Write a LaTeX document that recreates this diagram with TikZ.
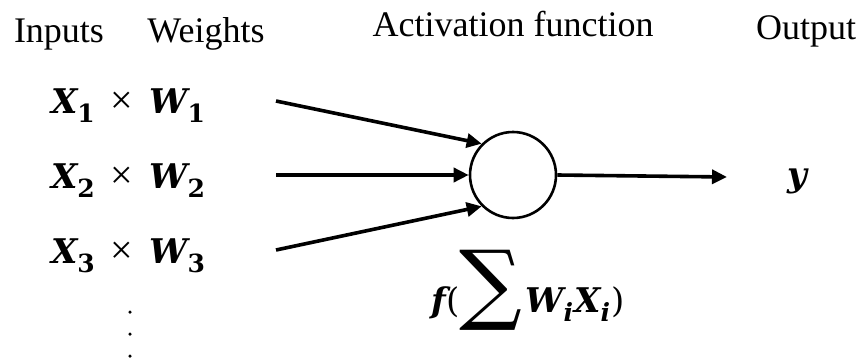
\documentclass[tikz,border=0pt]{standalone}
\usepackage{fontspec}
\setmainfont{Liberation Serif}
\newfontfamily\mfont{DejaVu Serif}
\usetikzlibrary{arrows.meta}
\newcommand{\mv}[1]{{\mfont\bfseries\itshape #1}}
\newcommand{\msub}[1]{\raisebox{-0.27em}{\fontsize{25}{28}\selectfont #1}}
\newcommand{\rowx}[1]{\mv{X}\msub{\mfont\bfseries #1}\hspace{16pt}{\fontsize{40}{40}\selectfont ×}\hspace{16pt}\mv{W}\msub{\mfont\bfseries #1}}
\tikzset{
  lbl/.style={inner sep=0pt, anchor=base, font=\fontsize{36}{40}\selectfont},
  mth/.style={inner sep=0pt, anchor=base, font=\fontsize{34}{38}\selectfont},
  neuron/.style={circle, draw, line width=2.6pt, minimum size=86pt, inner sep=0pt},
  conn/.style={line width=3.6pt, -{Triangle[length=15pt,width=14pt]}},
  dotm/.style={fill, circle, inner sep=0pt, minimum size=3.5pt}
}
\begin{document}
\begin{tikzpicture}[x=1pt,y=-1pt]
\useasboundingbox (0,0) rectangle (866,361);
\node[lbl] (inp) at (59,43) {Inputs};
\node[lbl] (wt) at (206,43) {Weights};
\node[lbl] (act) at (513,37) {Activation function};
\node[lbl] (out) at (806,40) {Output};

\node[mth] (r1) at (128,113) {\rowx{1}};
\node[mth] (r2) at (128,188) {\rowx{2}};
\node[mth] (r3) at (128,263) {\rowx{3}};
\node[dotm] (d1) at (130,312) {};
\node[dotm] (d2) at (130,334) {};
\node[dotm] (d3) at (130,356) {};

\node[neuron] (c) at (513,175) {};
\coordinate (a1) at (276,101);
\coordinate (a2) at (276,175);
\coordinate (a3) at (276,250);
\coordinate (oend) at (727,177);

\draw[conn] (a1) -- (c.135);
\draw[conn] (a2) -- (c.west);
\draw[conn] (a3) -- (c.225);
\draw[conn] (c.east) -- (oend);

\node[mth] (yo) at (797,186) {\mv{y}};
\node[mth] (fx) at (528,312) {\mv{f}{\mfont(}\raisebox{-0.05em}{\mfont\fontsize{88}{88}\selectfont ∑}\hspace{3pt}\mv{W}\msub{\mv{i}}\hspace{1pt}\mv{X}\msub{\mv{i}}\hspace{1pt}{\mfont)}};
\end{tikzpicture}
\end{document}
